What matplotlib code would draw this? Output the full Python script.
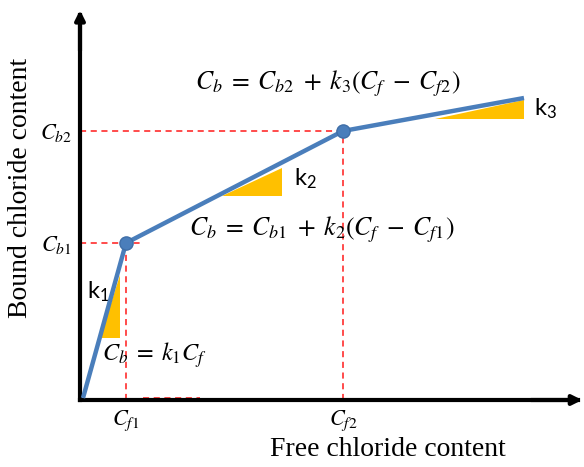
import matplotlib
matplotlib.use("Agg")
import matplotlib.pyplot as plt
from matplotlib.patches import Polygon

# bilinear-ish binding curve (units: roughly screen pixels from origin)
CURVE_X = [3, 46, 263, 444]
CURVE_Y = [2, 157, 269, 302]
CF = [46, 263]          # Cf1, Cf2
CB = [157, 269]         # Cb1, Cb2
CF_LABELS = [r"$\mathit{C_{f1}}$", r"$\mathit{C_{f2}}$"]
CB_LABELS = [r"$\mathit{C_{b1}}$", r"$\mathit{C_{b2}}$"]

# slope triangles (x-left, x-right, y-bottom, y-top)
TRI_X0 = [20, 142, 355]
TRI_X1 = [40, 202, 444]
TRI_Y0 = [62, 204, 281]
TRI_Y1 = [125, 232, 300]
K_LABELS = ["k$_1$", "k$_2$", "k$_3$"]
K_POS = [(7, 108), (214, 221), (454, 291)]

EQUATIONS = [
    r"$C_b\;=\;k_1C_f$",
    r"$C_b\;=\;C_{b1}\;+\;k_2(C_f\;-\;C_{f1})$",
    r"$C_b\;=\;C_{b2}\;+\;k_3(C_f\;-\;C_{f2})$",
]
EQ_POS = [(74, 45), (242, 170), (248, 316)]
EQ_SIZE = [17.5, 18.5, 18.5]

plt.rcParams["mathtext.fontset"] = "stix"
plt.rcParams["mathtext.rm"] = "Lato"
plt.rcParams["mathtext.it"] = "Lato:italic"

BLUE = "#4A7EBB"
RED = "#FF1A1A"
ORANGE = "#FFC000"

fig = plt.figure(figsize=(5.84, 4.67), dpi=100)
ax = fig.add_axes([80 / 584, 67 / 467, 498 / 584, 385 / 467])
ax.set_xlim(0, 498)
ax.set_ylim(0, 385)

for s in ["top", "right"]:
    ax.spines[s].set_visible(False)
for s in ["left", "bottom"]:
    ax.spines[s].set_linewidth(3)
ax.annotate("", xy=(0, 1.02), xytext=(0, 0.9), xycoords="axes fraction",
            arrowprops=dict(arrowstyle="-|>", lw=3, color="black", mutation_scale=14),
            annotation_clip=False)
ax.annotate("", xy=(1.014, 0), xytext=(0.9, 0), xycoords="axes fraction",
            arrowprops=dict(arrowstyle="-|>", lw=3, color="black", mutation_scale=14),
            annotation_clip=False)

# guide lines
dash = dict(color=RED, lw=1.1, ls=(0, (4, 3)), zorder=2)
ax.plot([0, CF[0] + 16], [CB[0], CB[0]], **dash)
ax.plot([CF[0], CF[0]], [0, CB[0]], **dash)
ax.plot([0, CF[1]], [CB[1], CB[1]], **dash)
ax.plot([CF[1], CF[1]], [0, CB[1]], **dash)
ax.plot([63, 120], [2, 2], **dash)

# slope triangles
for x0, x1, y0, y1 in zip(TRI_X0, TRI_X1, TRI_Y0, TRI_Y1):
    ax.add_patch(Polygon([(x0, y0), (x1, y0), (x1, y1)], closed=True,
                         facecolor=ORANGE, edgecolor="none", zorder=3))

ax.plot(CURVE_X, CURVE_Y, color=BLUE, lw=3.2, solid_capstyle="butt", zorder=4)
ax.plot(CF, CB, "o", color=BLUE, ms=9.5, mec="#3F6FA8", mew=1, zorder=5)

for lab, (x, y) in zip(K_LABELS, K_POS):
    ax.text(x, y, lab, fontsize=17, family="Lato", math_fontfamily="custom",
            ha="left", va="center")

for eq, (x, y), fs in zip(EQUATIONS, EQ_POS, EQ_SIZE):
    ax.text(x, y, eq, fontsize=fs, math_fontfamily="stix", ha="center", va="center")

ax.set_xticks(CF)
ax.set_xticklabels(CF_LABELS, fontsize=16)
ax.set_yticks(CB)
ax.set_yticklabels(CB_LABELS, fontsize=16)
ax.tick_params(length=0, pad=6)

ax.set_xlabel("Free chloride content", family="Liberation Serif", fontsize=20)
ax.set_ylabel("Bound chloride content", family="Liberation Serif", fontsize=20)
ax.xaxis.set_label_coords(0.618, -0.097)
ax.yaxis.set_label_coords(-0.095, 0.55)

fig.savefig("out.png", dpi=100)
